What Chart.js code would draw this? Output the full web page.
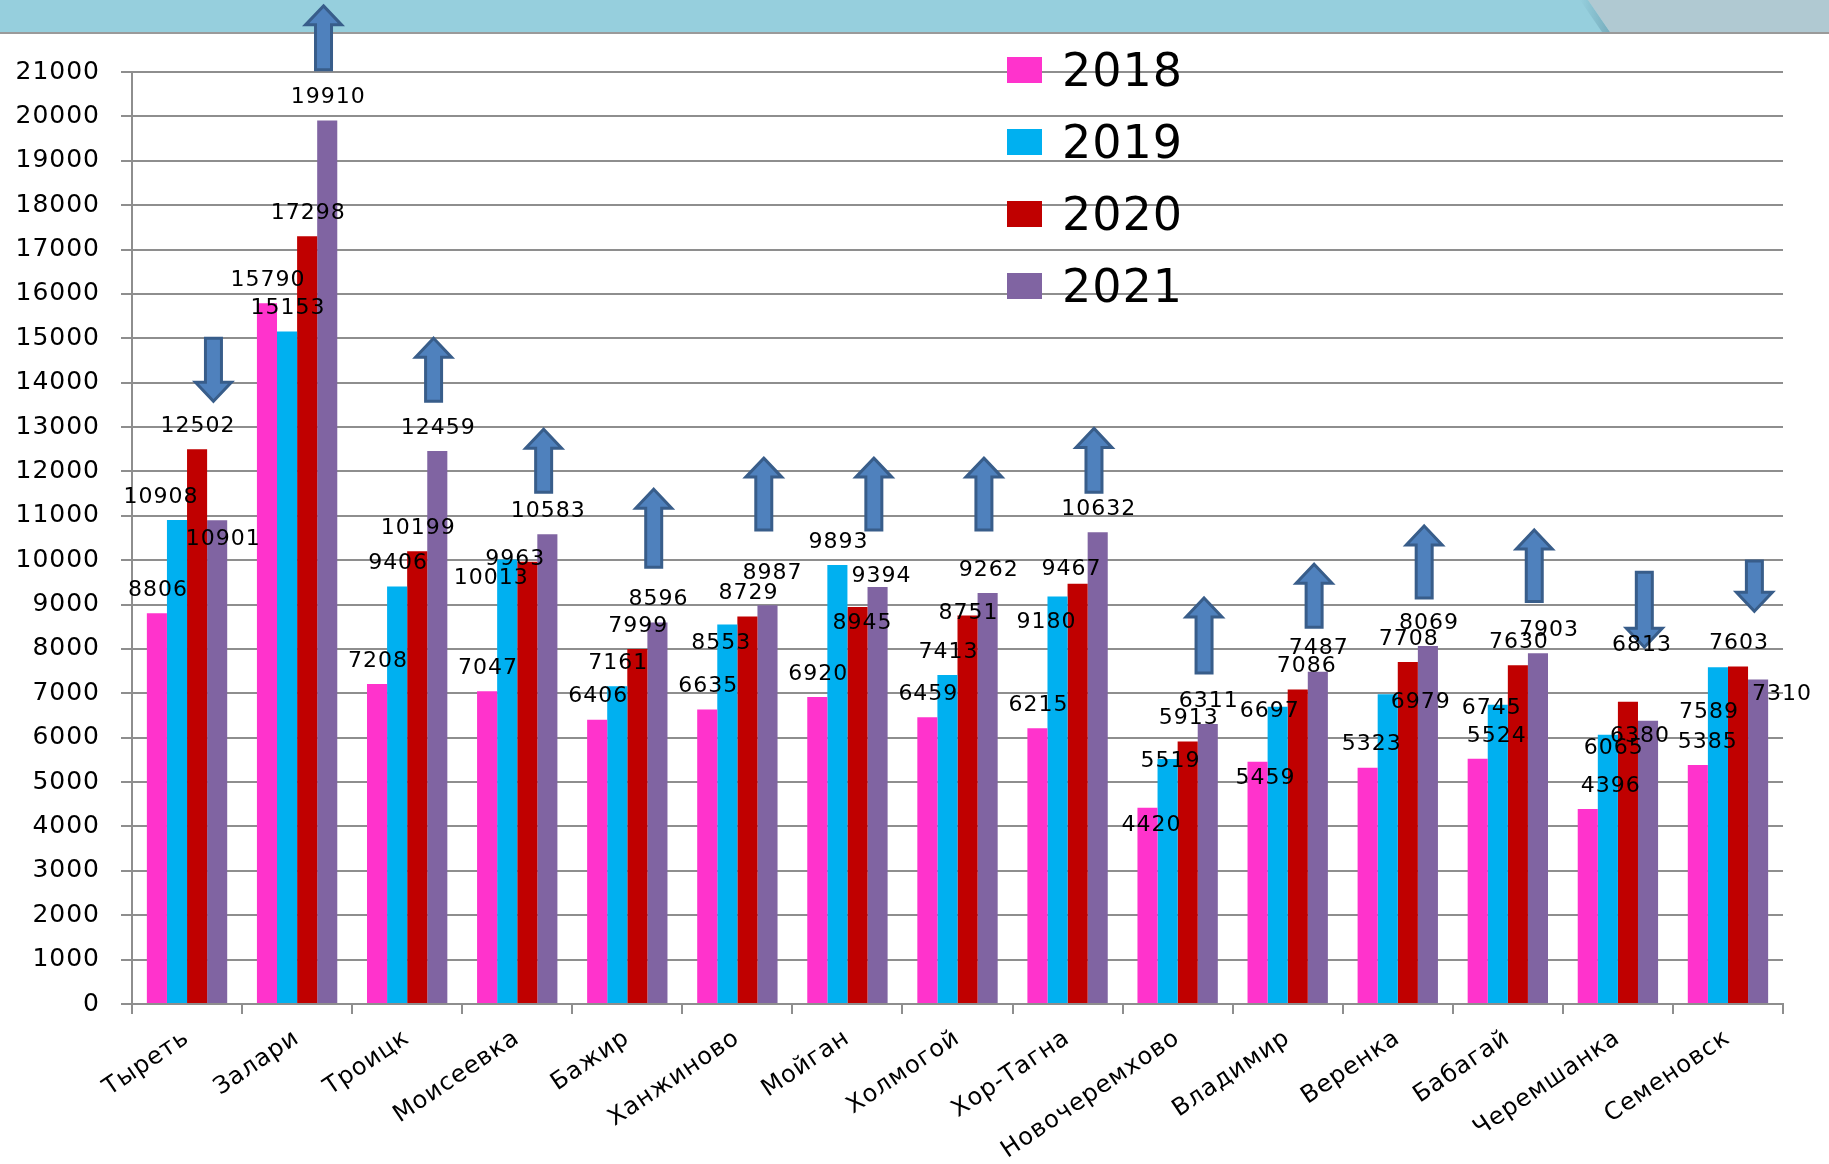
<!DOCTYPE html>
<html>
<head>
<meta charset="utf-8">
<script src="https://cdn.jsdelivr.net/npm/chart.js@4.4.1/dist/chart.umd.min.js"></script>
<style>
    body { margin: 0; background: #fff; font-family: "DejaVu Sans", sans-serif; }
    #band { position: absolute; left: 0; top: 0; width: 1829px; height: 32px; background: #96cfdd; }
    #band-right { position: absolute; left: 1588px; top: 0; width: 241px; height: 32px; background: #b0c9d2;
        clip-path: polygon(0 0, 100% 0, 100% 100%, 22px 100%); }
    #band-shadow { position: absolute; left: 1580px; top: 0; width: 30px; height: 32px;
        background: linear-gradient(to right, rgba(0,0,0,0), rgba(60,110,130,0.35));
        clip-path: polygon(0 0, 8px 0, 30px 100%, 22px 100%); }
    #band-line { position: absolute; left: 0; top: 32px; width: 1829px; height: 2px; background: #9a9a9a; }
    #chart-box { position: absolute; left: 0; top: 0; width: 1829px; height: 1164px; }
    #legend { position: absolute; left: 1007px; top: 34px; }
    .legend-row { height: 72px; display: flex; align-items: center; }
    .legend-box { width: 35px; height: 26px; margin-right: 20px; }
    .legend-text { font-size: 46px; letter-spacing: 1px; color: #000; }
</style>
</head>
<body>
<div id="band"></div>
<div id="band-shadow"></div>
<div id="band-right"></div>
<div id="band-line"></div>
<div id="chart-box"><canvas id="chart"></canvas></div>
<div id="legend"></div>
<script>
const categories = ['Тыреть', 'Залари', 'Троицк', 'Моисеевка', 'Бажир', 'Ханжиново', 'Мойган', 'Холмогой',
    'Хор-Тагна', 'Новочеремхово', 'Владимир', 'Веренка', 'Бабагай', 'Черемшанка', 'Семеновск'];
const seriesNames = ['2018', '2019', '2020', '2021'];
const seriesColors = ['#ff33cc', '#00b0f0', '#c00000', '#8064a2'];

const values2018 = [8806, 15790, 7208, 7047, 6406, 6635, 6920, 6459, 6215, 4420, 5459, 5323, 5524, 4396, 5385];
const values2019 = [10908, 15153, 9406, 10013, 7161, 8553, 9893, 7413, 9180, 5519, 6697, 6979, 6745, 6065, 7589];
const values2020 = [12502, 17298, 10199, 9963, 7999, 8729, 8945, 8751, 9467, 5913, 7086, 7708, 7630, 6813, 7603];
const values2021 = [10901, 19910, 12459, 10583, 8596, 8987, 9394, 9262, 10632, 6311, 7487, 8069, 7903, 6380, 7310];

const yMin = 0;
const yMax = 21000;
const yStep = 1000;

// trend arrows above each group (extent in axis units)
const arrowDir = ['down', 'up', 'up', 'up', 'up', 'up', 'up', 'up', 'up', 'up', 'up', 'up', 'up', 'down', 'down'];
const arrowTop = [15000, 22490, 15000, 12950, 11600, 12300, 12300, 12300, 12970, 9150, 9910, 10770, 10680, 9730, 9980];
const arrowBottom = [13580, 21050, 13580, 11530, 9840, 10680, 10680, 10680, 11530, 7460, 8490, 9150, 9070, 8040, 8850];

// hand-moved value labels: "series,category" -> [dx, dy] in px
const labelNudge = {
    '1,0': [-17, 0], '3,0': [5, 42],
    '1,3': [-17, 42], '2,3': [-13, 20],
    '1,5': [-7, 42], '3,5': [4, -9],
    '2,6': [4, 39], '3,6': [3, 12],
    '2,7': [0, 21],
    '1,8': [-12, 49], '2,8': [-7, 8],
    '0,9': [3, 40], '1,9': [2, 25],
    '0,10': [7, 40], '1,10': [-9, 28], '2,10': [8, 0],
    '0,11': [3, 0], '1,11': [32, 31],
    '0,12': [18, 0], '1,12': [-7, 27], '3,12': [10, 0],
    '0,13': [22, 0], '1,13': [5, 36], '2,13': [13, -33], '3,13': [-9, 38],
    '0,14': [9, 0], '1,14': [-10, 68], '3,14': [23, 38]
};

document.addEventListener('DOMContentLoaded', function() {
    const allValues = [values2018, values2019, values2020, values2021];
    const gridColor = '#8e8e8e';

    const legend = document.getElementById('legend');
    seriesNames.forEach((name, i) => {
        const row = document.createElement('div');
        row.className = 'legend-row';
        row.innerHTML = `<div class="legend-box" style="background:${seriesColors[i]}"></div><span class="legend-text">${name}</span>`;
        legend.appendChild(row);
    });

    // the source picture is stretched sideways, widen the axis text a little
    const spacingPlugin = {
        id: 'spacing',
        beforeDraw(chart) {
            chart.ctx.letterSpacing = '1px';
        }
    };

    const arrowPlugin = {
        id: 'arrows',
        afterDatasetsDraw(chart) {
            const ctx = chart.ctx;
            const xs = chart.scales.x;
            const ys = chart.scales.y;
            const shift = xs.width / categories.length * 0.24;
            ctx.save();
            ctx.fillStyle = '#4f81bd';
            ctx.strokeStyle = '#385d8a';
            ctx.lineWidth = 3;
            ctx.lineJoin = 'miter';
            arrowDir.forEach((dir, i) => {
                const x = xs.getPixelForValue(i) + shift;
                const top = ys.getPixelForValue(arrowTop[i]);
                const bot = ys.getPixelForValue(arrowBottom[i]);
                const sw = 8, hw = 18, hl = 19;
                ctx.beginPath();
                if (dir === 'up') {
                    ctx.moveTo(x, top);
                    ctx.lineTo(x + hw, top + hl);
                    ctx.lineTo(x + sw, top + hl);
                    ctx.lineTo(x + sw, bot);
                    ctx.lineTo(x - sw, bot);
                    ctx.lineTo(x - sw, top + hl);
                    ctx.lineTo(x - hw, top + hl);
                } else {
                    ctx.moveTo(x, bot);
                    ctx.lineTo(x + hw, bot - hl);
                    ctx.lineTo(x + sw, bot - hl);
                    ctx.lineTo(x + sw, top);
                    ctx.lineTo(x - sw, top);
                    ctx.lineTo(x - sw, bot - hl);
                    ctx.lineTo(x - hw, bot - hl);
                }
                ctx.closePath();
                ctx.fill();
                ctx.stroke();
            });
            ctx.restore();
        }
    };

    const valueLabelPlugin = {
        id: 'valueLabels',
        afterDatasetsDraw(chart) {
            const ctx = chart.ctx;
            ctx.save();
            ctx.font = '22px "DejaVu Sans"';
            ctx.letterSpacing = '1px';
            ctx.fillStyle = '#000';
            ctx.textAlign = 'center';
            ctx.textBaseline = 'middle';
            chart.data.datasets.forEach((ds, s) => {
                chart.getDatasetMeta(s).data.forEach((bar, i) => {
                    const n = labelNudge[s + ',' + i] || [0, 0];
                    ctx.fillText(String(ds.data[i]), bar.x + n[0] + 1, bar.y - 23 + n[1]);
                });
            });
            ctx.restore();
        }
    };

    new Chart(document.getElementById('chart'), {
        type: 'bar',
        data: {
            labels: categories,
            datasets: seriesNames.map((name, i) => ({
                label: name,
                data: allValues[i],
                backgroundColor: seriesColors[i],
                borderWidth: 0,
                barPercentage: 1,
                categoryPercentage: 0.73
            }))
        },
        options: {
            responsive: true,
            maintainAspectRatio: false,
            animation: false,
            layout: { padding: { left: 0, right: 46, top: 72, bottom: 0 } },
            plugins: {
                legend: { display: false },
                tooltip: { enabled: false }
            },
            scales: {
                x: {
                    grid: {
                        offset: true,
                        drawOnChartArea: false,
                        color: gridColor,
                        lineWidth: 2,
                        tickLength: 10
                    },
                    border: { color: gridColor, width: 2 },
                    ticks: {
                        autoSkip: false,
                        minRotation: 34,
                        maxRotation: 34,
                        padding: 10,
                        color: '#000',
                        font: { family: 'DejaVu Sans', size: 24 }
                    },
                    afterFit(scale) { scale.height = 160; }
                },
                y: {
                    min: yMin,
                    max: yMax,
                    grid: {
                        color: gridColor,
                        lineWidth: 2,
                        tickLength: 11
                    },
                    border: { color: gridColor, width: 2 },
                    ticks: {
                        stepSize: yStep,
                        padding: 21,
                        color: '#000',
                        font: { family: 'DejaVu Sans', size: 25 },
                        callback: value => String(value)
                    },
                    afterFit(scale) { scale.width = 132; }
                }
            }
        },
        plugins: [spacingPlugin, arrowPlugin, valueLabelPlugin]
    });
});
</script>
</body>
</html>
